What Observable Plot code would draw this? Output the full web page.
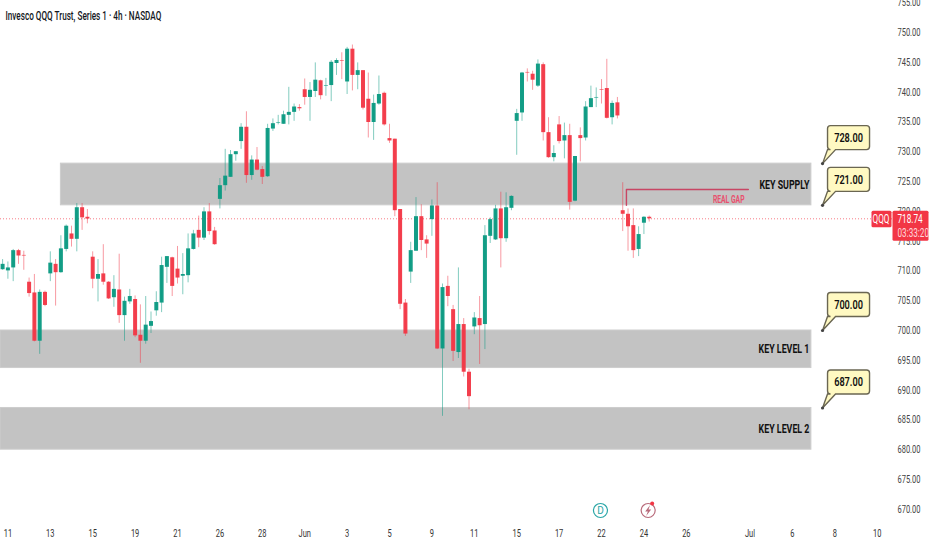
<!DOCTYPE html>
<html>
<head>
<meta charset="utf-8">
<script src="https://cdn.jsdelivr.net/npm/d3@7"></script>
<script src="https://cdn.jsdelivr.net/npm/@observablehq/plot@0.6"></script>
<style>
html,body{margin:0;padding:0;background:#fff;overflow:hidden}
svg text{font-family:Roboto,sans-serif}
</style>
</head>
<body>
<div id="chart"></div>
<script>
const opens=[710.2,710.0,710.5,713.4,712.6,708.1,706.3,698.2,706.4,709.5,711.1,709.7,713.6,716.2,715.3,720.6,719.0,712.3,708.6,709.5,708.1,705.5,706.8,702.5,704.8,705.2,699.2,698.2,700.7,703.3,704.6,710.6,712.2,710.3,709.1,709.2,713.6,716.8,715.5,719.9,716.7,722.0,
724.3,725.7,729.5,731.7,734.1,726.0,728.6,727.0,725.8,733.8,734.8,734.6,736.1,736.6,737.4,740.4,739.1,740.1,741.9,741.0,741.1,744.8,745.3,741.7,747.2,742.8,743.6,738.8,734.9,738.0,739.8,732.2,732.1,720.3,704.6,709.8,713.3,719.1,715.2,718.6,720.9,696.9,707.4,703.5,696.3,701.0,693.0,700.6,702.0,701.0,715.8,715.2,720.4,715.4,720.5,
735.1,736.5,743.3,743.0,741.0,744.6,733.2,729.0,734.5,731.8,732.7,721.7,732.7,732.3,737.4,739.0,740.4,740.6,735.7,738.2,720.1,719.5,717.6,713.6,718.0,719.0];
const highs=[711.9,711.5,713.6,713.6,713.3,708.8,709.4,706.8,706.6,713.2,711.9,715.9,717.7,717.5,721.3,721.3,720.3,713.2,711.9,714.4,708.2,709.2,712.8,705.6,706.9,705.8,704.3,705.7,703.1,706.5,712.3,712.4,712.3,714.1,712.9,716.2,716.8,719.2,720.6,721.3,717.3,725.5,
730.4,730.2,730.0,734.7,736.7,729.3,730.7,727.5,734.6,735.5,736.1,736.8,740.8,738.0,737.9,742.2,741.6,744.9,742.0,742.3,745.3,745.6,746.6,747.5,747.9,744.9,743.6,743.2,739.5,742.7,740.0,734.6,732.1,720.3,705.2,714.8,722.3,721.1,715.9,721.9,724.8,707.8,709.1,704.2,710.5,702.0,693.5,703.0,705.7,717.6,718.9,721.0,723.2,723.1,722.6,
737.1,743.3,743.9,743.5,745.4,744.9,735.7,731.0,735.9,734.8,734.6,729.2,734.0,738.4,741.0,740.7,742.1,745.5,738.5,739.1,724.8,720.4,720.4,717.4,719.1,719.2];
const lows=[710.1,708.6,708.2,711.1,710.1,705.6,698.1,696.0,704.0,708.2,704.1,709.6,713.2,714.0,713.2,716.8,717.9,707.0,704.8,707.6,705.2,703.9,701.2,698.2,704.4,698.8,694.5,697.7,699.5,702.4,703.0,707.9,705.7,707.8,706.0,708.0,713.5,713.9,715.1,716.0,714.3,720.4,
723.4,725.7,728.4,730.4,724.7,725.2,726.8,724.5,725.7,733.4,734.5,734.6,734.5,735.1,736.8,737.8,735.1,739.1,738.7,739.3,738.4,742.8,742.1,739.6,740.2,740.4,737.0,732.3,731.9,737.8,734.3,731.4,719.1,703.5,699.0,707.9,713.3,713.4,712.1,715.8,696.8,685.6,704.0,694.8,695.3,692.2,686.7,699.3,694.3,696.8,714.6,715.1,710.5,714.8,720.1,
729.4,735.1,741.7,740.3,740.8,731.8,728.9,728.3,731.3,728.8,720.2,721.6,728.3,731.8,737.4,737.4,738.0,735.5,734.5,735.5,716.6,713.3,712.1,712.4,716.1,718.2];
const closes=[711.1,710.5,713.4,712.5,712.5,706.2,698.2,706.4,704.2,711.3,709.7,713.7,717.5,715.3,720.6,718.9,718.7,708.6,709.4,708.1,705.3,706.9,702.5,704.9,705.7,699.1,698.2,700.9,701.5,704.7,710.9,712.4,707.4,708.8,709.4,713.7,716.2,715.5,719.9,716.6,714.4,724.3,
725.9,729.5,730.0,734.1,726.0,728.6,726.9,725.7,733.9,734.7,734.9,736.2,736.6,737.5,737.2,739.1,740.3,742.0,739.4,741.1,745.0,745.3,745.2,747.2,742.8,743.6,737.3,734.9,738.1,739.6,734.5,731.8,720.1,704.4,699.4,713.4,719.1,715.1,714.5,720.9,696.9,707.2,705.7,696.5,701.0,693.0,688.9,702.1,700.8,715.9,718.6,720.4,715.4,720.6,722.5,
736.4,743.2,743.2,742.0,744.7,733.2,729.0,729.7,731.7,732.7,721.5,729.2,732.2,737.5,738.9,739.1,740.3,735.6,738.1,736.0,719.5,717.4,713.4,716.1,719.0,718.74];
const dateTicks=[1,9,17,25,33,41,49,57,65,73,81,89,97,105,113,121,129,141,149,157,165];
const dateLabels=["11","13","15","19","21","26","28","Jun","3","5","9","11","15","17","22","24","26","Jul","6","8","10"];
const priceTicks=[670,675,680,685,690,695,700,705,710,715,720,725,730,735,740,745,750,755];
const zoneFrom=[11.0,-0.4,-0.4];
const zoneTo=[152.6,152.6,152.6];
const zoneLow=[721,693.7,680];
const zoneHigh=[728,700,687];
const zoneNames=["KEY SUPPLY","KEY LEVEL 1","KEY LEVEL 2"];
const calloutPrices=[728,721,700,687];
const calloutBar=154.7;
const gapX=[117.7,117.7,140.7];
const gapY=[721,723.65,723.65];
const lastPrice=718.74;
const rightEdge=167.9;

const bars=opens.map((o,i)=>({i,o,h:highs[i],l:lows[i],c:closes[i],up:closes[i]>=o}));
const RED="#F23645",GREEN="#089981";
const col=d=>d.up?GREEN:RED;
const zones=zoneFrom.map((a,i)=>({a,b:zoneTo[i],lo:zoneLow[i],hi:zoneHigh[i],name:zoneNames[i]}));

const calloutShape={draw(p){
  const x0=5,x1=47,y0=-38,y1=-14,r=3;
  p.moveTo(x0+r,y0);p.lineTo(x1-r,y0);p.quadraticCurveTo(x1,y0,x1,y0+r);
  p.lineTo(x1,y1-r);p.quadraticCurveTo(x1,y1,x1-r,y1);
  p.lineTo(13,y1);p.lineTo(0,0);p.lineTo(x0,y1);
  p.lineTo(x0+r,y1);p.quadraticCurveTo(x0,y1,x0,y1-r);
  p.lineTo(x0,y0+r);p.quadraticCurveTo(x0,y0,x0+r,y0);p.closePath();
}};
const rectShape=(x0,y0,x1,y1,r)=>({draw(p){
  p.moveTo(x0+r,y0);p.lineTo(x1-r,y0);p.quadraticCurveTo(x1,y0,x1,y0+r);
  p.lineTo(x1,y1-r);p.quadraticCurveTo(x1,y1,x1-r,y1);
  p.lineTo(x0+r,y1);p.quadraticCurveTo(x0,y1,x0,y1-r);
  p.lineTo(x0,y0+r);p.quadraticCurveTo(x0,y0,x0+r,y0);p.closePath();
}});
const boltShape={draw(p){
  p.moveTo(2,-5.5);p.lineTo(-3,1);p.lineTo(-0.3,1);p.lineTo(-2,5.5);p.lineTo(3,-1);p.lineTo(0.3,-1);p.closePath();
}};
const eventPrice=669.8;

const chart=Plot.plot({
  width:932,height:550,
  marginLeft:0,marginRight:40,marginTop:0,marginBottom:30,
  style:{background:"#fff",fontFamily:"Roboto,sans-serif"},
  x:{type:"linear",domain:[-0.396,167.9],range:[0,892],axis:null},
  y:{type:"linear",domain:[668.12,755.37],range:[520,0],axis:null},
  marks:[
    Plot.rect(zones,{x1:"a",x2:"b",y1:"lo",y2:"hi",fill:"#c3c3c3",stroke:"#cdcdcd",strokeWidth:1}),
    Plot.ruleY([lastPrice],{stroke:RED,strokeDasharray:"1,2",strokeOpacity:.65,strokeWidth:1}),
    Plot.ruleX(bars,{x:"i",y1:"l",y2:"h",stroke:col,strokeWidth:1,strokeOpacity:.5}),
    Plot.ruleX(bars,{x:"i",y1:"o",y2:"c",stroke:col,strokeWidth:4,strokeOpacity:.95}),
    Plot.line(gapX.map((x,i)=>({x,y:gapY[i]})),{x:"x",y:"y",stroke:"#c9385a",strokeWidth:1.4,strokeOpacity:.9}),
    Plot.text(["REAL GAP"],{x:[137],y:[722],text:d=>d,fill:"#e8506e",fontSize:10,fontWeight:700,className:"sq"}),
    Plot.text(zones,{x:"b",y:d=>(d.lo+d.hi)/2,text:"name",textAnchor:"end",dx:-2,fill:"#111",fontSize:13,fontWeight:700,className:"sq"}),
    Plot.dot(calloutPrices,{x:()=>calloutBar,y:d=>d,r:5,symbol:calloutShape,fill:"#fff9c2",stroke:"#6a6652",strokeWidth:1.4}),
    Plot.dot(calloutPrices,{x:()=>calloutBar,y:d=>d,r:1.6,fill:"#444",stroke:"none"}),
    Plot.text(calloutPrices,{x:()=>calloutBar,y:d=>d,text:d=>d.toFixed(2),dx:26,dy:-26,fill:"#111",fontSize:13.5,fontWeight:600,className:"sq"}),
    Plot.axisX(dateTicks,{anchor:"bottom",tickSize:0,tickPadding:9,fontSize:11,fill:"#333",tickFormat:d=>dateLabels[dateTicks.indexOf(d)],className:"sq"}),
    Plot.axisY(priceTicks,{anchor:"right",tickSize:0,tickPadding:5,fontSize:11,fill:"#444",tickFormat:d=>d.toFixed(2),textAnchor:"start",className:"sq"}),
    Plot.dot([lastPrice],{x:()=>rightEdge,y:d=>d,r:5,symbol:rectShape(-21,-8,-1,8.5,1.5),fill:RED,stroke:"none"}),
    Plot.dot([lastPrice],{x:()=>rightEdge,y:d=>d,r:5,symbol:rectShape(0,-8,36,22,1.5),fill:RED,stroke:"none"}),
    Plot.text(["QQQ"],{x:()=>rightEdge,y:()=>lastPrice,dx:-20,textAnchor:"start",text:d=>d,fill:"#fff",fontSize:12,className:"sq"}),
    Plot.text(["718.74"],{x:()=>rightEdge,y:()=>lastPrice,dx:5,textAnchor:"start",text:d=>d,fill:"#fff",fontSize:12,className:"sq"}),
    Plot.text(["03:33:20"],{x:()=>rightEdge,y:()=>lastPrice,dx:5,dy:14,textAnchor:"start",text:d=>d,fill:"#ffd5da",fontSize:12,className:"sq"}),
    Plot.dot([112.8],{x:d=>d,y:()=>eventPrice,r:7,fill:"#fff",stroke:"#2aa6a6",strokeWidth:1.2}),
    Plot.text(["D"],{x:[112.8],y:[eventPrice],text:d=>d,fill:"#2aa6a6",fontSize:10}),
    Plot.dot([121.8],{x:d=>d,y:()=>eventPrice,r:7,fill:"#fff",stroke:"#b86a7a",strokeWidth:1.2}),
    Plot.dot([121.8],{x:d=>d,y:()=>eventPrice,r:5,symbol:boltShape,fill:"#b86a7a",stroke:"none"}),
    Plot.dot([121.8],{x:d=>d,y:()=>eventPrice,dx:4,dy:-7,r:2,fill:RED,stroke:"none"}),
    Plot.text(["Invesco QQQ Trust, Series 1 · 4h · NASDAQ"],{frameAnchor:"top-left",dx:5,dy:11,text:d=>d,textAnchor:"start",fill:"#131722",fontSize:12,fontWeight:500,className:"sq"})
  ]
});
document.getElementById("chart").appendChild(chart);
chart.querySelectorAll(".sq text, text.sq").forEach(t=>{
  const len=t.getComputedTextLength();
  t.setAttribute("textLength",(len*0.68).toFixed(1));
  t.setAttribute("lengthAdjust","spacingAndGlyphs");
});
</script>
</body>
</html>
